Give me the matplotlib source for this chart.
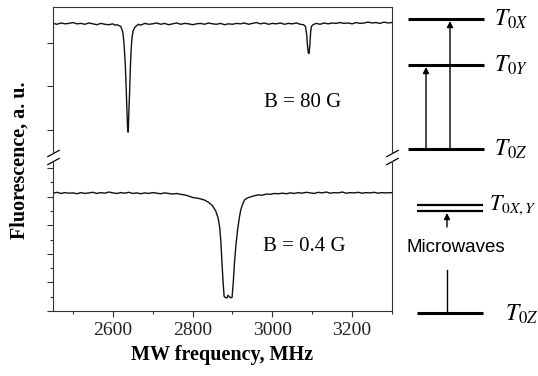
import numpy as np
import matplotlib
matplotlib.use("Agg")
import matplotlib.pyplot as plt
from matplotlib.ticker import MultipleLocator, NullFormatter

plt.rcParams["font.family"] = ["Liberation Serif", "DejaVu Serif"]
plt.rcParams["mathtext.fontset"] = "stix"

# ── Spectra (MW frequency in MHz, fluorescence in a.u.) ─────────────────
freq_80G = [2450, 2460, 2470, 2480, 2490, 2500, 2510, 2520, 2530, 2540,
            2550, 2560, 2570, 2580, 2590, 2600, 2605, 2610, 2615, 2620,
            2625, 2628, 2631, 2633, 2635, 2637, 2638, 2639, 2640, 2642,
            2644, 2646, 2648, 2651, 2655, 2660, 2665, 2670, 2680, 2690,
            2700, 2710, 2720, 2730, 2740, 2750, 2760, 2770, 2780, 2790,
            2800, 2810, 2820, 2830, 2840, 2850, 2860, 2870, 2880, 2890,
            2900, 2910, 2920, 2930, 2940, 2950, 2960, 2970, 2980, 2990,
            3000, 3010, 3020, 3030, 3040, 3050, 3060, 3070, 3078, 3083,
            3086, 3088, 3090, 3092, 3094, 3096, 3098, 3102, 3110, 3120,
            3130, 3140, 3150, 3160, 3170, 3180, 3190, 3200, 3210, 3220,
            3230, 3240, 3250, 3260, 3270, 3280, 3290, 3300]
fluo_80G = [3.45, 3.43, 3.46, 3.44, 3.45, 3.47, 3.44, 3.45, 3.43, 3.46,
            3.44, 3.42, 3.45, 3.43, 3.42, 3.44, 3.41, 3.42, 3.40, 3.38,
            3.25, 3.00, 2.55, 2.10, 1.55, 1.05, 0.95, 1.05, 1.35, 1.85,
            2.45, 2.85, 3.12, 3.28, 3.36, 3.40, 3.43, 3.41, 3.45, 3.43,
            3.44, 3.46, 3.43, 3.45, 3.42, 3.44, 3.46, 3.43, 3.45, 3.44,
            3.42, 3.44, 3.45, 3.43, 3.46, 3.44, 3.43, 3.45, 3.42, 3.44,
            3.43, 3.45, 3.44, 3.46, 3.43, 3.45, 3.47, 3.44, 3.46, 3.43,
            3.45, 3.44, 3.46, 3.43, 3.45, 3.44, 3.46, 3.43, 3.42, 3.38,
            3.20, 2.95, 2.78, 2.76, 2.95, 3.25, 3.38, 3.42, 3.45, 3.43,
            3.46, 3.44, 3.46, 3.45, 3.47, 3.45, 3.46, 3.44, 3.47, 3.45,
            3.46, 3.48, 3.46, 3.47, 3.45, 3.48, 3.46, 3.47]

freq_04G = [2450, 2460, 2470, 2480, 2490, 2500, 2510, 2520, 2530, 2540,
            2550, 2560, 2570, 2580, 2590, 2600, 2610, 2620, 2630, 2640,
            2650, 2660, 2670, 2680, 2690, 2700, 2710, 2720, 2730, 2740,
            2750, 2760, 2770, 2780, 2790, 2800, 2810, 2820, 2830, 2840,
            2850, 2858, 2864, 2868, 2871, 2874, 2877, 2879, 2882, 2886,
            2889, 2892, 2896, 2899, 2902, 2905, 2909, 2913, 2917, 2921,
            2926, 2930, 2937, 2945, 2955, 2965, 2975, 2985, 2995, 3005,
            3015, 3025, 3035, 3045, 3055, 3065, 3075, 3085, 3095, 3105,
            3115, 3125, 3135, 3145, 3155, 3165, 3175, 3185, 3195, 3205,
            3215, 3225, 3235, 3245, 3255, 3265, 3275, 3285, 3300]
fluo_04G = [4.12, 4.15, 4.11, 4.14, 4.12, 4.13, 4.10, 4.14, 4.11, 4.13,
            4.15, 4.11, 4.14, 4.12, 4.16, 4.13, 4.11, 4.14, 4.12, 4.15,
            4.11, 4.13, 4.10, 4.13, 4.11, 4.14, 4.12, 4.10, 4.13, 4.11,
            4.09, 4.11, 4.08, 4.06, 4.02, 3.97, 3.95, 3.92, 3.88, 3.80,
            3.68, 3.50, 3.25, 2.92, 2.40, 1.60, 0.90, 0.52, 0.47, 0.46,
            0.55, 0.50, 0.46, 0.48, 1.00, 1.68, 2.35, 2.85, 3.25, 3.55,
            3.75, 3.88, 3.95, 3.99, 4.03, 4.06, 4.05, 4.09, 4.08, 4.11,
            4.10, 4.12, 4.10, 4.13, 4.11, 4.14, 4.12, 4.15, 4.13, 4.11,
            4.15, 4.13, 4.16, 4.12, 4.14, 4.13, 4.16, 4.12, 4.14, 4.13,
            4.15, 4.12, 4.14, 4.13, 4.15, 4.12, 4.14, 4.13, 4.14]

field_labels = ["B = 80 G", "B = 0.4 G"]

# ── Energy level scheme (schematic, figure pixel units) ─────────────────
upper_levels = {r"$T_{0X}$": 19, r"$T_{0Y}$": 65, r"$T_{0Z}$": 149}
lower_levels = {r"$T_{0X,Y}$": (205, 211), r"$T_{0Z}$": 313}

fig = plt.figure(figsize=(5.38, 3.76), dpi=100)
W, H = 538, 376
left, width = 53 / W, (392 - 53) / W
ax_top = fig.add_axes([left, 1 - 153 / H, width, 146 / H])
ax_bot = fig.add_axes([left, 1 - 311 / H, width, 150 / H])

lc = "#111111"
ax_top.plot(freq_80G, fluo_80G, color=lc, lw=1.0)
ax_bot.plot(freq_04G, fluo_04G, color=lc, lw=1.0)

for ax in (ax_top, ax_bot):
    ax.set_xlim(2450, 3300)
    for s in ax.spines.values():
        s.set_linewidth(0.8)
        s.set_color("#333333")
    ax.tick_params(which="both", direction="out", width=0.8, colors="#333333",
                   labelsize=14, labelcolor="#222222")
    ax.tick_params(which="major", length=4.5)
    ax.tick_params(which="minor", length=2.5)
    ax.yaxis.set_major_formatter(NullFormatter())
    ax.yaxis.set_minor_formatter(NullFormatter())

ax_top.set_ylim(0.471, 3.827)
ax_top.yaxis.set_major_locator(MultipleLocator(1))
ax_top.spines["bottom"].set_visible(False)
ax_top.tick_params(axis="x", which="both", bottom=False, labelbottom=False)

ax_bot.set_ylim(0, 5.245)
ax_bot.yaxis.set_major_locator(MultipleLocator(1))
ax_bot.yaxis.set_minor_locator(MultipleLocator(0.5))
ax_bot.spines["top"].set_visible(False)
ax_bot.xaxis.set_major_locator(MultipleLocator(200))
ax_bot.xaxis.set_minor_locator(MultipleLocator(100))
ax_bot.set_xlabel("MW frequency, MHz", fontsize=14.5, fontweight="bold", labelpad=4)

fig.text(20 / W, 1 - 160 / H, "Fluorescence, a. u.", rotation=90, fontsize=14.5,
         fontweight="bold", ha="center", va="center")

ax_top.text(3075, 1.64, field_labels[0], fontsize=15, ha="center", va="center")
ax_bot.text(3080, 2.24, field_labels[1], fontsize=15, ha="center", va="center")

# break marks
kw = dict(marker=[(-1, -0.55), (1, 0.55)], markersize=9, linestyle="none",
          color="k", mec="k", mew=0.9, clip_on=False)
ax_top.plot([0, 1], [0, 0], transform=ax_top.transAxes, **kw)
ax_bot.plot([0, 1], [1, 1], transform=ax_bot.transAxes, **kw)

# ── Level diagram ───────────────────────────────────────────────────────
axd = fig.add_axes([0, 0, 1, 1], facecolor="none")
axd.set_xlim(0, W)
axd.set_ylim(H, 0)
axd.axis("off")

for name, y in upper_levels.items():
    axd.plot([408, 484], [y, y], color="k", lw=2.2, solid_capstyle="butt")
    axd.text(494, y, name, fontsize=17, ha="left", va="center")

(y1, y2) = lower_levels[r"$T_{0X,Y}$"]
for y in (y1, y2):
    axd.plot([417, 483], [y, y], color="k", lw=1.6, solid_capstyle="butt")
axd.text(489, (y1 + y2) / 2 - 3, r"$T_{0X,Y}$", fontsize=16, ha="left", va="center")
yz = lower_levels[r"$T_{0Z}$"]
axd.plot([417, 483], [yz, yz], color="k", lw=2.2, solid_capstyle="butt")
axd.text(505, yz + 1, r"$T_{0Z}$", fontsize=17, ha="left", va="center")

ap = dict(arrowstyle="-|>", lw=1.0, color="k", mutation_scale=9, shrinkA=0, shrinkB=0)
yx, yy, yzu = upper_levels[r"$T_{0X}$"], upper_levels[r"$T_{0Y}$"], upper_levels[r"$T_{0Z}$"]
axd.annotate("", xy=(426, yy + 2), xytext=(426, yzu - 1), arrowprops=ap)
axd.annotate("", xy=(450, yx + 2), xytext=(450, yzu - 1), arrowprops=ap)
axd.annotate("", xy=(447, y2 + 2), xytext=(447, 227), arrowprops=ap)
axd.plot([447, 447], [270, yz - 1], color="k", lw=1.0)
axd.text(456, 247, "Microwaves", fontsize=13.5, ha="center", va="center",
         family=["Liberation Sans", "DejaVu Sans"])

fig.savefig("out.png", dpi=100)
